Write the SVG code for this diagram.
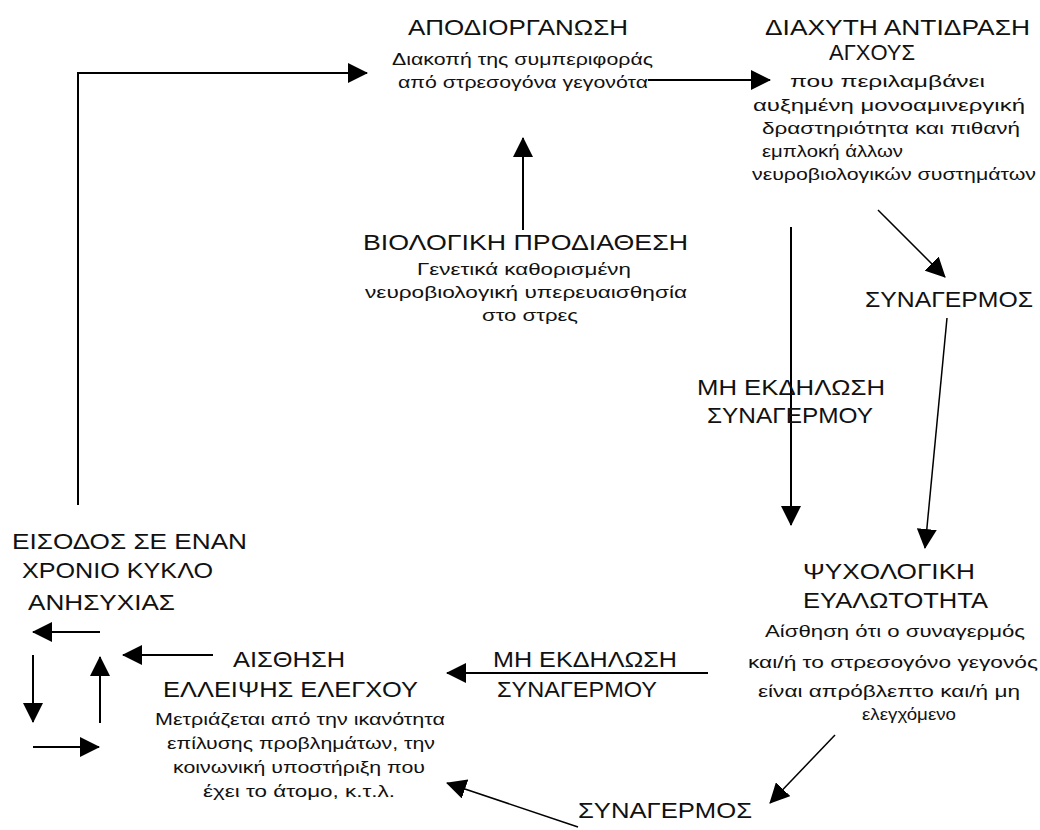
<svg xmlns="http://www.w3.org/2000/svg" width="1040" height="830" viewBox="0 0 1040 830">
<style>
text{font-family:"Liberation Sans","DejaVu Sans",sans-serif;fill:#111;}
.t{font-size:22px;}
.b{font-size:17px;}
.ln{stroke:#000;stroke-width:2;fill:none;}
.dg{stroke:#000;stroke-width:1.5;fill:none;}
</style>
<defs>
<marker id="ah" viewBox="0 0 20 20" markerUnits="userSpaceOnUse" markerWidth="20" markerHeight="20" refX="19" refY="10" orient="auto">
<path d="M0,0 L20,10 L0,20 z" fill="#000"/>
</marker>
</defs>
<rect width="1040" height="830" fill="#fff"/>

<g id="connectors">
<polyline class="ln" points="78,505 78,73 367,73" marker-end="url(#ah)"/>
<line class="ln" x1="648" y1="80" x2="770" y2="80" marker-end="url(#ah)"/>
<line class="ln" x1="523" y1="230" x2="523" y2="138" marker-end="url(#ah)"/>
<line class="dg" x1="878" y1="210" x2="945" y2="277" marker-end="url(#ah)"/>
<line class="ln" x1="791" y1="227" x2="791" y2="525" marker-end="url(#ah)"/>
<line class="dg" x1="947" y1="318" x2="925" y2="548" marker-end="url(#ah)"/>
<line class="ln" x1="708" y1="673" x2="447" y2="673" marker-end="url(#ah)"/>
<line class="dg" x1="835" y1="735" x2="770" y2="803" marker-end="url(#ah)"/>
<line class="dg" x1="578" y1="827" x2="447" y2="783" marker-end="url(#ah)"/>
<line class="ln" x1="213" y1="655" x2="123" y2="655" marker-end="url(#ah)"/>
<line class="ln" x1="100" y1="632" x2="33" y2="632" marker-end="url(#ah)"/>
<line class="ln" x1="33" y1="655" x2="33" y2="722" marker-end="url(#ah)"/>
<line class="ln" x1="33" y1="747" x2="99" y2="747" marker-end="url(#ah)"/>
<line class="ln" x1="100" y1="723" x2="100" y2="657" marker-end="url(#ah)"/>
</g>

<g id="apodiorganosi">
<text class="t" x="408" y="35" textLength="220" lengthAdjust="spacingAndGlyphs">ΑΠΟΔΙΟΡΓΑΝΩΣΗ</text>
<text class="b" x="392" y="65" textLength="261" lengthAdjust="spacingAndGlyphs">Διακοπή της συμπεριφοράς</text>
<text class="b" x="398" y="88" textLength="250" lengthAdjust="spacingAndGlyphs">από στρεσογόνα γεγονότα</text>
</g>

<g id="diaxyti">
<text class="t" x="765" y="35" textLength="265" lengthAdjust="spacingAndGlyphs">ΔΙΑΧΥΤΗ ΑΝΤΙΔΡΑΣΗ</text>
<text class="t" x="829" y="60" textLength="86" lengthAdjust="spacingAndGlyphs">ΑΓΧΟΥΣ</text>
<text class="b" x="790" y="87" textLength="195" lengthAdjust="spacingAndGlyphs">που περιλαμβάνει</text>
<text class="b" x="753" y="111" textLength="272" lengthAdjust="spacingAndGlyphs">αυξημένη μονοαμινεργική</text>
<text class="b" x="762" y="134" textLength="258" lengthAdjust="spacingAndGlyphs">δραστηριότητα και πιθανή</text>
<text class="b" x="762" y="157" textLength="141" lengthAdjust="spacingAndGlyphs">εμπλοκή άλλων</text>
<text class="b" x="752" y="180" textLength="284" lengthAdjust="spacingAndGlyphs">νευροβιολογικών συστημάτων</text>
</g>

<g id="viologiki">
<text class="t" x="363" y="250" textLength="325" lengthAdjust="spacingAndGlyphs">ΒΙΟΛΟΓΙΚΗ ΠΡΟΔΙΑΘΕΣΗ</text>
<text class="b" x="417" y="275" textLength="214" lengthAdjust="spacingAndGlyphs">Γενετικά καθορισμένη</text>
<text class="b" x="365" y="298" textLength="322" lengthAdjust="spacingAndGlyphs">νευροβιολογική υπερευαισθησία</text>
<text class="b" x="482" y="321" textLength="96" lengthAdjust="spacingAndGlyphs">στο στρες</text>
</g>

<g id="synagermos-right">
<text class="t" x="865" y="307" textLength="168" lengthAdjust="spacingAndGlyphs">ΣΥΝΑΓΕΡΜΟΣ</text>
</g>

<g id="mi-ekdilosi-vertical">
<text class="t" x="697" y="395" textLength="188" lengthAdjust="spacingAndGlyphs">ΜΗ ΕΚΔΗΛΩΣΗ</text>
<text class="t" x="707" y="423" textLength="166" lengthAdjust="spacingAndGlyphs">ΣΥΝΑΓΕΡΜΟΥ</text>
</g>

<g id="psychologiki">
<text class="t" x="803" y="579" textLength="172" lengthAdjust="spacingAndGlyphs">ΨΥΧΟΛΟΓΙΚΗ</text>
<text class="t" x="803" y="608" textLength="185" lengthAdjust="spacingAndGlyphs">ΕΥΑΛΩΤΟΤΗΤΑ</text>
<text class="b" x="765" y="637" textLength="260" lengthAdjust="spacingAndGlyphs">Αίσθηση ότι ο συναγερμός</text>
<text class="b" x="748" y="668" textLength="290" lengthAdjust="spacingAndGlyphs">και/ή το στρεσογόνο γεγονός</text>
<text class="b" x="758" y="697" textLength="262" lengthAdjust="spacingAndGlyphs">είναι απρόβλεπτο και/ή μη</text>
<text class="b" x="862" y="720" textLength="94" lengthAdjust="spacingAndGlyphs">ελεγχόμενο</text>
</g>

<g id="mi-ekdilosi-horizontal">
<text class="t" x="493" y="667" textLength="184" lengthAdjust="spacingAndGlyphs">ΜΗ ΕΚΔΗΛΩΣΗ</text>
<text class="t" x="497" y="697" textLength="160" lengthAdjust="spacingAndGlyphs">ΣΥΝΑΓΕΡΜΟΥ</text>
</g>

<g id="synagermos-bottom">
<text class="t" x="578" y="818" textLength="174" lengthAdjust="spacingAndGlyphs">ΣΥΝΑΓΕΡΜΟΣ</text>
</g>

<g id="aisthisi">
<text class="t" x="233" y="667" textLength="112" lengthAdjust="spacingAndGlyphs">ΑΙΣΘΗΣΗ</text>
<text class="t" x="163" y="697" textLength="255" lengthAdjust="spacingAndGlyphs">ΕΛΛΕΙΨΗΣ ΕΛΕΓΧΟΥ</text>
<text class="b" x="155" y="725" textLength="290" lengthAdjust="spacingAndGlyphs">Μετριάζεται από την ικανότητα</text>
<text class="b" x="167" y="749" textLength="268" lengthAdjust="spacingAndGlyphs">επίλυσης προβλημάτων, την</text>
<text class="b" x="173" y="773" textLength="252" lengthAdjust="spacingAndGlyphs">κοινωνική υποστήριξη που</text>
<text class="b" x="203" y="797" textLength="192" lengthAdjust="spacingAndGlyphs">έχει το άτομο, κ.τ.λ.</text>
</g>

<g id="eisodos">
<text class="t" x="12" y="549" textLength="235" lengthAdjust="spacingAndGlyphs">ΕΙΣΟΔΟΣ ΣΕ ΕΝΑΝ</text>
<text class="t" x="22" y="578" textLength="191" lengthAdjust="spacingAndGlyphs">ΧΡΟΝΙΟ ΚΥΚΛΟ</text>
<text class="t" x="28" y="610" textLength="147" lengthAdjust="spacingAndGlyphs">ΑΝΗΣΥΧΙΑΣ</text>
</g>
</svg>
